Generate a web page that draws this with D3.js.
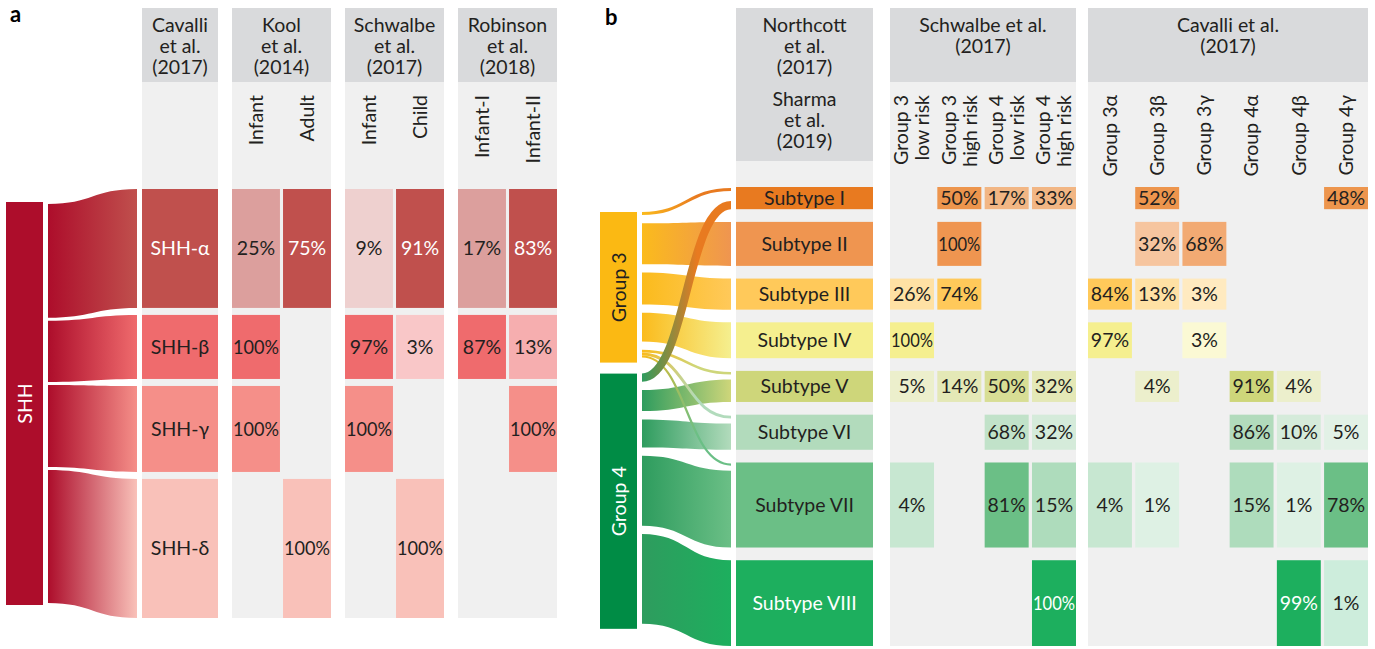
<!DOCTYPE html>
<html>
<head>
<meta charset="utf-8">
<title>SHH and Group 3/4 medulloblastoma subtypes</title>
<script src="https://cdn.jsdelivr.net/npm/d3@7"></script>
<style>
  html, body { margin: 0; padding: 0; background: #ffffff; }
  svg { display: block; font-family: Lato, "Open Sans", "DejaVu Sans", sans-serif; }
</style>
</head>
<body>
<svg id="chart" width="1375" height="649"></svg>
<script>
// ---------- panel a: SHH subgroups ----------
const shhSubtypes = ["SHH-α", "SHH-β", "SHH-γ", "SHH-δ"];
const shhCounts = [65, 35, 47, 76];
const shhLabelHead = ["Cavalli", "et al.", "(2017)"];
const shhStudyHeads = [["Kool", "et al.", "(2014)"], ["Schwalbe", "et al.", "(2017)"], ["Robinson", "et al.", "(2018)"]];
const shhStudyCols = [["Infant", "Adult"], ["Infant", "Child"], ["Infant-I", "Infant-II"]];
const koolShh = [[25, 75], [100, null], [100, null], [null, 100]];
const schwalbeShh = [[9, 91], [97, 3], [100, null], [null, 100]];
const robinsonShh = [[17, 83], [87, 13], [null, 100], [null, null]];
const shhStudyValues = [koolShh, schwalbeShh, robinsonShh];

// ---------- panel b: Group 3 / Group 4 subtypes ----------
const groupNames = ["Group 3", "Group 4"];
const g34Subtypes = ["Subtype I", "Subtype II", "Subtype III", "Subtype IV",
                     "Subtype V", "Subtype VI", "Subtype VII", "Subtype VIII"];
const subtypeShares = [6.0, 11.9, 8.4, 9.7, 8.4, 9.5, 23.0, 23.2];
const groupLinks = [
  ["Group 3", "Subtype I", 0.8], ["Group 3", "Subtype II", 11.1], ["Group 3", "Subtype III", 8.6],
  ["Group 3", "Subtype IV", 7.8], ["Group 3", "Subtype V", 0.7], ["Group 3", "Subtype VI", 0.8],
  ["Group 3", "Subtype VII", 0.6],
  ["Group 4", "Subtype I", 2.2], ["Group 4", "Subtype V", 5.7], ["Group 4", "Subtype VI", 7.6],
  ["Group 4", "Subtype VII", 18.9], ["Group 4", "Subtype VIII", 24.3]
];
const subtypeHeads = [["Northcott", "et al.", "(2017)"], ["Sharma", "et al.", "(2019)"]];
const schwalbeHead = ["Schwalbe et al.", "(2017)"];
const schwalbeCols = [["Group 3", "low risk"], ["Group 3", "high risk"], ["Group 4", "low risk"], ["Group 4", "high risk"]];
const schwalbeG34 = [
  [null, 50, 17, 33],
  [null, 100, null, null],
  [26, 74, null, null],
  [100, null, null, null],
  [5, 14, 50, 32],
  [null, null, 68, 32],
  [4, null, 81, 15],
  [null, null, null, 100]
];
const cavalliHead = ["Cavalli et al.", "(2017)"];
const cavalliCols = [["Group 3α"], ["Group 3β"], ["Group 3γ"], ["Group 4α"], ["Group 4β"], ["Group 4γ"]];
const cavalliG34 = [
  [null, 52, null, null, null, 48],
  [null, 32, 68, null, null, null],
  [84, 13, 3, null, null, null],
  [97, null, 3, null, null, null],
  [null, 4, null, 91, 4, null],
  [null, null, null, 86, 10, 5],
  [4, 1, null, 15, 1, 78],
  [null, null, null, null, 99, 1]
];

// ---------- styles ----------
const INK = "#231f20";
const FS = 19.5;
const LINE = 21;
const headGrey = "#d9dadc";
const bodyGrey = "#f0f0f0";
const shhRoot = "#ad0d2b";
const shhColors = ["#c0504d", "#ef6b6d", "#f58f89", "#f9c1b9"];
const shhInkFull = ["#ffffff", INK, INK, INK];
const subtypeColors = ["#e87a20", "#ef9550", "#ffc95a", "#f5ef8f", "#ced67a", "#b2dbbc", "#6bbf86", "#1daf5e"];
const subtypeInkFull = [INK, INK, INK, INK, INK, INK, INK, "#ffffff"];
const groupColors = ["#fbb913", "#008c45"];
const groupInk = [INK, "#ffffff"];
const groupLinkColors = ["#fbbb1c", "#2e9c5e"];

// percentage -> how far a cell is tinted from white toward its row colour
const shade = d3.scaleThreshold().domain([3, 9, 10, 45, 70]).range([0.22, 0.38, 0.27, 0.55, 0.8, 1]);
const tint = (color, v) => d3.interpolateRgb("#ffffff", color)(shade(v));

const svg = d3.select("#chart");
const defs = svg.append("defs");

// ---------- helpers ----------
function headerBlock(g, lines, x0, x1, firstBaseline) {
  lines.forEach((s, i) => {
    g.append("text").attr("x", (x0 + x1) / 2).attr("y", firstBaseline + i * LINE)
      .attr("text-anchor", "middle").attr("font-size", FS).attr("fill", INK).text(s);
  });
}
function verticalLabel(g, lines, cx, yEnd) {
  const t = g.append("text").attr("transform", `translate(${cx},${yEnd}) rotate(-90)`)
    .attr("text-anchor", "end").attr("font-size", FS).attr("fill", INK);
  lines.forEach((s, i) => {
    t.append("tspan").attr("x", 0).attr("y", 0)
      .attr("dy", ((i - (lines.length - 1) / 2) * 1.08 + 0.35) + "em").text(s);
  });
}
function cellText(g, s, x, w, yc, fill) {
  const t = g.append("text").attr("x", x + w / 2).attr("y", yc).attr("dy", "0.36em")
    .attr("text-anchor", "middle").attr("font-size", FS).attr("fill", fill).text(s);
  const len = t.node().getComputedTextLength();
  if (len > w - 2) t.attr("textLength", w - 2).attr("lengthAdjust", "spacingAndGlyphs");
  return t;
}
function ribbon(x0, a0, a1, x1, b0, b1) {
  const xm = (x0 + x1) / 2;
  return `M${x0},${a0}C${xm},${a0} ${xm},${b0} ${x1},${b0}L${x1},${b1}C${xm},${b1} ${xm},${a1} ${x0},${a1}Z`;
}
function curve(x0, a, x1, b) {
  const xm = (x0 + x1) / 2;
  return `M${x0},${a}C${xm},${a} ${xm},${b} ${x1},${b}`;
}
function gradient(id, x0, x1, c0, c1) {
  const lg = defs.append("linearGradient").attr("id", id).attr("gradientUnits", "userSpaceOnUse")
    .attr("x1", x0).attr("x2", x1).attr("y1", 0).attr("y2", 0);
  lg.append("stop").attr("offset", 0).attr("stop-color", c0);
  lg.append("stop").attr("offset", 1).attr("stop-color", c1);
  return `url(#${id})`;
}

// =====================================================================
// Panel a
// =====================================================================
const gA = svg.append("g");
gA.append("text").attr("x", 10).attr("y", 22).attr("font-size", 22).attr("font-weight", 700)
  .attr("fill", "#000").text("a");

const aHeadTop = 8, aHeadBottom = 82, aBodyBottom = 618;
const aLabelX = [142, 218];
const aStudyBand = d3.scaleBand().domain(d3.range(shhStudyHeads.length)).range([232, 557]).paddingInner(0.124);

// row layout (heights proportional to cohort size)
const aRowTop = 189, aRowGap = 7;
const aY = d3.scaleLinear().domain([0, d3.sum(shhCounts)])
  .range([0, aBodyBottom - aRowTop - aRowGap * (shhCounts.length - 1)]);
let acc = aRowTop;
const aRows = shhCounts.map((n, i) => { const r = { i, y0: acc, y1: acc + aY(n) }; acc = r.y1 + aRowGap; return r; });

// label column
gA.append("rect").attr("x", aLabelX[0]).attr("y", aHeadTop).attr("width", aLabelX[1] - aLabelX[0])
  .attr("height", aHeadBottom - aHeadTop).attr("fill", headGrey);
gA.append("rect").attr("x", aLabelX[0]).attr("y", aHeadBottom).attr("width", aLabelX[1] - aLabelX[0])
  .attr("height", aBodyBottom - aHeadBottom).attr("fill", bodyGrey);
headerBlock(gA, shhLabelHead, aLabelX[0], aLabelX[1], 32);
aRows.forEach(r => {
  gA.append("rect").attr("x", aLabelX[0]).attr("y", r.y0).attr("width", aLabelX[1] - aLabelX[0])
    .attr("height", r.y1 - r.y0).attr("fill", shhColors[r.i]);
  cellText(gA, shhSubtypes[r.i], aLabelX[0], aLabelX[1] - aLabelX[0], (r.y0 + r.y1) / 2, shhInkFull[r.i]);
});

// study columns
shhStudyHeads.forEach((head, s) => {
  const x0 = aStudyBand(s), bw = aStudyBand.bandwidth();
  gA.append("rect").attr("x", x0).attr("y", aHeadTop).attr("width", bw).attr("height", aHeadBottom - aHeadTop).attr("fill", headGrey);
  gA.append("rect").attr("x", x0).attr("y", aHeadBottom).attr("width", bw).attr("height", aBodyBottom - aHeadBottom).attr("fill", bodyGrey);
  headerBlock(gA, head, x0, x0 + bw, 32);
  const sub = d3.scaleBand().domain(d3.range(shhStudyCols[s].length)).range([x0, x0 + bw]).paddingInner(0.06);
  shhStudyCols[s].forEach((c, ci) => verticalLabel(gA, [c], sub(ci) + sub.bandwidth() / 2, 95));
  shhStudyValues[s].forEach((row, ri) => {
    row.forEach((v, ci) => {
      if (v == null) return;
      const r = aRows[ri];
      gA.append("rect").attr("x", sub(ci)).attr("y", r.y0).attr("width", sub.bandwidth())
        .attr("height", r.y1 - r.y0).attr("fill", tint(shhColors[ri], v));
      cellText(gA, v + "%", sub(ci), sub.bandwidth(), (r.y0 + r.y1) / 2, shade(v) === 1 ? shhInkFull[ri] : INK);
    });
  });
});

// SHH root bar and flows
const aBar = { x0: 6, x1: 43, y0: 202, y1: 605 };
const aLinkX0 = 48, aLinkX1 = 137, aLinkGap = 3, aLinkPad = 2;
gA.append("rect").attr("x", aBar.x0).attr("y", aBar.y0).attr("width", aBar.x1 - aBar.x0)
  .attr("height", aBar.y1 - aBar.y0).attr("fill", shhRoot);
gA.append("text").attr("transform", `translate(${(aBar.x0 + aBar.x1) / 2},${(aBar.y0 + aBar.y1) / 2}) rotate(-90)`)
  .attr("text-anchor", "middle").attr("dy", "0.36em").attr("font-size", FS).attr("fill", "#fff").text("SHH");
const aLeft = d3.scaleLinear().domain([0, d3.sum(shhCounts)])
  .range([0, aBar.y1 - aBar.y0 - 2 * aLinkPad - aLinkGap * (shhCounts.length - 1)]);
let la = aBar.y0 + aLinkPad;
aRows.forEach(r => {
  const w = aLeft(shhCounts[r.i]);
  const fill = gradient("shh-flow-" + r.i, aLinkX0, aLinkX1, shhRoot, shhColors[r.i]);
  gA.append("path").attr("d", ribbon(aLinkX0, la, la + w, aLinkX1, r.y0, r.y1)).attr("fill", fill);
  la += w + aLinkGap;
});

// =====================================================================
// Panel b
// =====================================================================
const gB = svg.append("g");
gB.append("text").attr("x", 605).attr("y", 25).attr("font-size", 22).attr("font-weight", 700)
  .attr("fill", "#000").text("b");

const bHeadTop = 8, bHeadBottom = 82, bBodyBottom = 646;
const bSubX = [736, 873], bSubHeadBottom = 161;
const bSchX = [890, 1076], bCavX = [1088, 1368];
const bRowTop = 187, bRowGap = 12.7;
const bY = d3.scaleLinear().domain([0, d3.sum(subtypeShares)])
  .range([0, bBodyBottom - bRowTop - bRowGap * (subtypeShares.length - 1)]);
acc = bRowTop;
const bRows = subtypeShares.map((n, i) => { const r = { i, name: g34Subtypes[i], y0: acc, y1: acc + bY(n) }; acc = r.y1 + bRowGap; return r; });

// subtype label column
gB.append("rect").attr("x", bSubX[0]).attr("y", bHeadTop).attr("width", bSubX[1] - bSubX[0])
  .attr("height", bSubHeadBottom - bHeadTop).attr("fill", headGrey);
gB.append("rect").attr("x", bSubX[0]).attr("y", bSubHeadBottom).attr("width", bSubX[1] - bSubX[0])
  .attr("height", bBodyBottom - bSubHeadBottom).attr("fill", bodyGrey);
headerBlock(gB, subtypeHeads[0], bSubX[0], bSubX[1], 32);
headerBlock(gB, subtypeHeads[1], bSubX[0], bSubX[1], 106);
bRows.forEach(r => {
  gB.append("rect").attr("x", bSubX[0]).attr("y", r.y0).attr("width", bSubX[1] - bSubX[0])
    .attr("height", r.y1 - r.y0).attr("fill", subtypeColors[r.i]);
  cellText(gB, r.name, bSubX[0], bSubX[1] - bSubX[0], (r.y0 + r.y1) / 2, subtypeInkFull[r.i]);
});

// study blocks
function studyBlock(xr, head, cols, values) {
  gB.append("rect").attr("x", xr[0]).attr("y", bHeadTop).attr("width", xr[1] - xr[0])
    .attr("height", bHeadBottom - bHeadTop).attr("fill", headGrey);
  gB.append("rect").attr("x", xr[0]).attr("y", bHeadBottom).attr("width", xr[1] - xr[0])
    .attr("height", bBodyBottom - bHeadBottom).attr("fill", bodyGrey);
  headerBlock(gB, head, xr[0], xr[1], 32);
  const sub = d3.scaleBand().domain(d3.range(cols.length)).range(xr).paddingInner(0.07);
  cols.forEach((c, ci) => verticalLabel(gB, c, sub(ci) + sub.bandwidth() / 2, 95));
  values.forEach((row, ri) => {
    const r = bRows[ri];
    row.forEach((v, ci) => {
      if (v == null) return;
      gB.append("rect").attr("x", sub(ci)).attr("y", r.y0).attr("width", sub.bandwidth())
        .attr("height", r.y1 - r.y0).attr("fill", tint(subtypeColors[ri], v));
      cellText(gB, v + "%", sub(ci), sub.bandwidth(), (r.y0 + r.y1) / 2, shade(v) === 1 ? subtypeInkFull[ri] : INK);
    });
  });
}
studyBlock(bSchX, schwalbeHead, schwalbeCols, schwalbeG34);
studyBlock(bCavX, cavalliHead, cavalliCols, cavalliG34);

// group bars and flows to subtypes
const bBarX = [600, 637], bLinkX0 = 642, bLinkX1 = 731;
const bGroupTop = 212, bLinkGap = 8.3, bBarPad = 5, bGroupSep = 11, thin = 5, strokeMax = 10;
const links = groupLinks.map(([source, target, value]) => ({ source, target, value, w: bY(value) }));
let gy = bGroupTop;
const bars = groupNames.map((g, gi) => {
  const ls = links.filter(l => l.source === g);
  let cy = gy;
  ls.forEach((l, i) => {
    if (i > 0 && !(ls[i - 1].w < thin && l.w < thin)) cy += bLinkGap;
    l.y0 = cy; l.y1 = cy + l.w; cy = l.y1;
  });
  const bar = { gi, y0: gy, y1: cy + bBarPad };
  gy = bar.y1 + bGroupSep;
  return bar;
});
// where each flow lands on its subtype
bRows.forEach(r => {
  const inc = links.filter(l => l.target === r.name);
  if (inc.length === 1) { inc[0].r0 = r.y0; inc[0].r1 = r.y1; return; }
  let top = r.y0 + 1;
  inc.forEach((l, k) => {
    const last = k === inc.length - 1;
    if (l.w < strokeMax) {
      if (last) { l.r1 = r.y1; l.r0 = r.y1 - l.w; }
      else { l.r0 = top; l.r1 = top + l.w; top = l.r1 + 4; }
    } else { l.r0 = top + 1; l.r1 = r.y1; }
  });
});

const ribbons = links.filter(l => l.w >= strokeMax);
const strokes = links.filter(l => l.w < strokeMax);
ribbons.forEach((l, i) => {
  const gi = groupNames.indexOf(l.source), ti = g34Subtypes.indexOf(l.target);
  const fill = gradient("g34-flow-" + i, bLinkX0, bLinkX1, groupLinkColors[gi], subtypeColors[ti]);
  gB.append("path").attr("d", ribbon(bLinkX0, l.y0, l.y1, bLinkX1, l.r0, l.r1)).attr("fill", fill);
});
// narrow flows are drawn as stroked curves; their colour turns over early along the run
strokes.forEach((l, i) => {
  const gi = groupNames.indexOf(l.source), ti = g34Subtypes.indexOf(l.target);
  const stroke = gradient("g34-line-" + i, bLinkX0, bLinkX0 + (bLinkX1 - bLinkX0) * 0.62, groupLinkColors[gi], subtypeColors[ti]);
  gB.append("path").attr("d", curve(bLinkX0, (l.y0 + l.y1) / 2, bLinkX1, (l.r0 + l.r1) / 2))
    .attr("fill", "none").attr("stroke", stroke).attr("stroke-width", Math.max(l.w, 1.8));
});

bars.forEach(b => {
  gB.append("rect").attr("x", bBarX[0]).attr("y", b.y0).attr("width", bBarX[1] - bBarX[0])
    .attr("height", b.y1 - b.y0).attr("fill", groupColors[b.gi]);
  gB.append("text").attr("transform", `translate(${(bBarX[0] + bBarX[1]) / 2},${(b.y0 + b.y1) / 2}) rotate(-90)`)
    .attr("text-anchor", "middle").attr("dy", "0.36em").attr("font-size", FS)
    .attr("fill", groupInk[b.gi]).text(groupNames[b.gi]);
});
</script>
</body>
</html>
